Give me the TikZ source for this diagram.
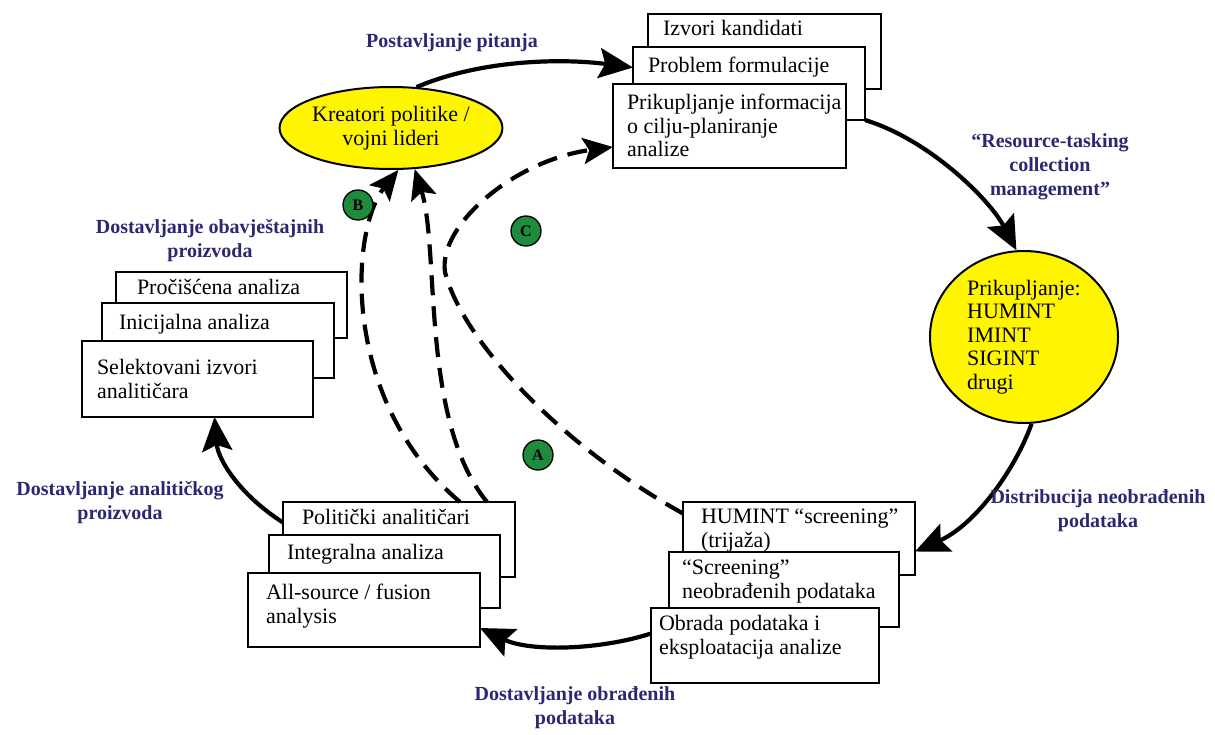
\documentclass[tikz,border=0pt]{standalone}
\usepackage{fontspec}
\setmainfont{Liberation Serif}
\usetikzlibrary{arrows.meta,shapes.geometric}
\definecolor{navy}{RGB}{43,40,115}
\definecolor{ylw}{RGB}{255,245,0}
\definecolor{grn}{RGB}{30,140,60}
\newcommand\boxfont{\fontsize{22}{23.5}\selectfont}
\newcommand\labfont{\fontsize{20}{24}\selectfont\bfseries}
\begin{document}
\begin{tikzpicture}[x=1pt,y=-1pt,
  card/.style={draw, fill=white, line width=2.2pt, anchor=north west, inner sep=0pt, outer sep=0pt},
  cardtext/.style={anchor=north west, inner sep=0pt, outer sep=0pt, align=left, font=\boxfont},
  lab/.style={text=navy, align=center, font=\labfont},
  blob/.style={ellipse, draw, line width=2pt, fill=ylw, inner sep=0pt, font=\boxfont},
  flow/.style={line width=4.2pt, -{Stealth[length=34pt,width=30pt,inset=6pt]}},
  fb/.style={line width=4.2pt, dash pattern=on 20pt off 11pt, -{Stealth[length=30pt,width=26pt,inset=6pt]}},
  badge/.style={circle, draw, line width=1.3pt, fill=grn, minimum size=30pt, inner sep=0pt, font=\fontsize{16}{16}\selectfont\bfseries}
]
\fill[white] (0,0) rectangle (1215,734);
\useasboundingbox (0,0) rectangle (1215,734);

% top stack
\node[card, minimum width=233pt, minimum height=75pt] (t1) at (648,14) {};
\node[cardtext] (t1x) at (663,19.5) {\strut Izvori kandidati};
\node[card, minimum width=232pt, minimum height=73pt] (t2) at (633,47) {};
\node[cardtext] (t2x) at (648,56.5) {\strut Problem formulacije};
\node[card, minimum width=233pt, minimum height=84pt] (t3) at (613,84) {};
\node[cardtext] (t3x) at (627,93.5) {\strut Prikupljanje informacija\\o cilju-planiranje\\analize};

% left stack
\node[card, minimum width=231pt, minimum height=66pt] (l1) at (116,272) {};
\node[cardtext] (l1x) at (137,278.5) {\strut Pročišćena analiza};
\node[card, minimum width=232pt, minimum height=75pt] (l2) at (102,303) {};
\node[cardtext] (l2x) at (119,313.5) {\strut Inicijalna analiza};
\node[card, minimum width=231pt, minimum height=76pt] (l3) at (82,341) {};
\node[cardtext] (l3x) at (97,358.5) {\strut Selektovani izvori\\analitičara};

% bottom-left stack
\node[card, minimum width=232pt, minimum height=75pt] (bl1) at (283,502) {};
\node[cardtext] (bl1x) at (302,508.5) {\strut Politički analitičari};
\node[card, minimum width=231pt, minimum height=73pt] (bl2) at (269,535) {};
\node[cardtext] (bl2x) at (287,543.5) {\strut Integralna analiza};
\node[card, minimum width=232pt, minimum height=74pt] (bl3) at (248,573) {};
\node[cardtext] (bl3x) at (266,583.5) {\strut All-source / fusion\\analysis};

% bottom-right stack
\node[card, minimum width=232pt, minimum height=73pt] (br1) at (683,502) {};
\node[cardtext] (br1x) at (701,507.5) {\strut HUMINT “screening”\\(trijaža)};
\node[card, minimum width=230pt, minimum height=75pt] (br2) at (669,552) {};
\node[cardtext] (br2x) at (682,558.5) {\strut “Screening”\\neobrađenih podataka};
\node[card, minimum width=228pt, minimum height=75pt] (br3) at (651,608) {};
\node[cardtext] (br3x) at (659,614.5) {\strut Obrada podataka i\\eksploatacija analize};

% yellow shapes
\node[blob, minimum width=198pt, minimum height=82pt, align=center] (kp) at (391,128) {Kreatori politike /\\vojni lideri};
\node[blob, minimum width=188pt, minimum height=172pt, align=left] (pc) at (1024,337) {Prikupljanje:\\HUMINT\\IMINT\\SIGINT\\drugi};

% solid cycle arrows
\draw[flow] (kp.58) .. controls (480,60) and (560,58) .. ([yshift=16pt]t2.west);
\draw[flow] (t2.south east) .. controls (930,140) and (990,200) .. (pc.95);
\draw[flow] (pc.-85) .. controls (1015,470) and (975,525) .. ([yshift=-13pt]br1.east);
\draw[flow] ([yshift=12pt]br3.west) .. controls (600,650) and (530,652) .. ([yshift=-18pt]bl3.east);
\draw[flow] ([yshift=17pt]bl1.west) .. controls (240,495) and (218,460) .. ([xshift=17pt]l3.south);

% dashed feedback arrows
\coordinate (cbend) at (445,272);
\draw[fb] ([yshift=25pt]br1.west) .. controls (560,445) and (462,340) .. (cbend)
          .. controls (438,225) and (515,160) .. ([yshift=-21pt]t3.west);
\draw[fb] ([xshift=61pt]bl1.north) .. controls (340,400) and (350,230) .. (kp.-80);
\draw[fb] ([xshift=88pt]bl1.north) .. controls (420,420) and (440,250) .. (kp.-60);

% badges
\node[badge] (bb) at (358,205) {B};
\node[badge] (bc) at (526,231) {C};
\node[badge] (ba) at (538,455) {A};

% labels
\node[lab] (lab1) at (452,43) {Postavljanje pitanja};
\node[lab] (lab2) at (1050,167) {“Resource-tasking\\collection\\management”};
\node[lab] (lab3) at (1098,511) {Distribucija neobrađenih\\podataka};
\node[lab] (lab4) at (575,708) {Dostavljanje obrađenih\\podataka};
\node[lab] (lab5) at (120,503) {Dostavljanje analitičkog\\proizvoda};
\node[lab] (lab6) at (210,241) {Dostavljanje obavještajnih\\proizvoda};
\end{tikzpicture}
\end{document}
